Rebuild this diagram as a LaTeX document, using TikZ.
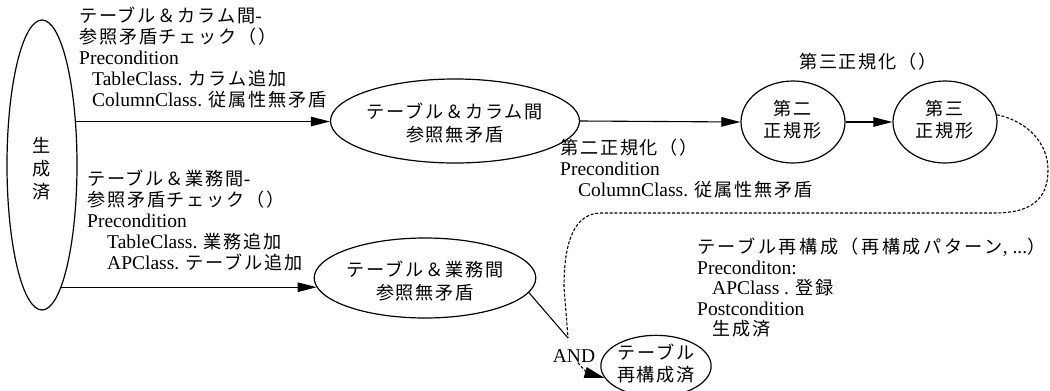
\documentclass[tikz,border=0pt]{standalone}
\usepackage{fontspec}
\setmainfont{Liberation Serif}
\newfontfamily\jp[Scale=0.93,LetterSpace=10]{Noto Sans CJK JP}
\newfontfamily\jpw[Scale=0.93,LetterSpace=14]{Noto Sans CJK JP}
\usetikzlibrary{arrows.meta,shapes.geometric}
\newcommand\J[1]{{\jp #1}}
\newcommand\JW[1]{{\jpw #1}}
\newcommand\low[2]{\raisebox{-#1}[\height][\depth]{\begin{tabular}{@{}c@{}}#2\end{tabular}}}
\begin{document}
\begin{tikzpicture}[x=1pt,y=-1pt,
  every node/.style={font=\fontsize{19.5}{21}\selectfont, inner sep=0pt},
  state/.style={ellipse, draw, line width=1.2pt, inner sep=0pt, font=\fontsize{19.5}{23}\selectfont},
  lbl/.style={align=left, anchor=north west},
  arr/.style={line width=1.1pt, -{Triangle[length=19pt,width=9.5pt]}},
  dsh/.style={line width=1.1pt, dash pattern=on 3pt off 1.8pt},
]
\useasboundingbox (0,0) rectangle (1050,391);

% states
\node[state, minimum width=70pt, minimum height=290pt, font=\fontsize{19.5}{23}\selectfont] (gen) at (42,165) {\low{6pt}{\J{生}\\\J{成}\\\J{済}}};
\node[state, minimum width=214pt, minimum height=84pt] (n1) at (455,121) {\low{4pt}{\J{テーブル＆カラム間}\\\J{参照無矛盾}}};
\node[state, minimum width=210pt, minimum height=80pt] (n2) at (425,278) {\low{5pt}{\J{テーブル＆業務間}\\\J{参照無矛盾}}};
\node[state, minimum width=104pt, minimum height=82pt, font=\fontsize{19.5}{22}\selectfont] (s2) at (793,122) {\low{0pt}{\J{第二}\\\J{正規形}}};
\node[state, minimum width=104pt, minimum height=82pt, font=\fontsize{19.5}{22}\selectfont] (s3) at (945,122) {\low{0pt}{\J{第三}\\\J{正規形}}};
\node[state, minimum width=100pt, minimum height=56pt, font=\fontsize{19.5}{21}\selectfont] (n5) at (656,366) {\low{0pt}{\J{テーブル}\\\J{再構成済}}};

% labels (anchor north west, about 8pt above the centre of the first line)
\node[lbl] (l1) at (79,7) {\J{テーブル＆カラム間}-\\
\J{参照矛盾チェック（）}\\
Precondition\\
\hspace*{13pt}TableClass. \J{カラム追加}\\
\hspace*{13pt}ColumnClass. \J{従属性無矛盾}};
\node[lbl] (l2) at (87,170) {\J{テーブル＆業務間}-\\
\J{参照矛盾チェック（）}\\
Precondition\\
\hspace*{20pt}TableClass. \J{業務追加}\\
\hspace*{20pt}APClass. \J{テーブル追加}};
\node[lbl] (l3) at (560,139) {\J{第二正規化（）}\\
Precondition\\
\hspace*{18pt}ColumnClass. \J{従属性無矛盾}};
\node (l4) at (868,62) {\J{第三正規化（）}};
\node[lbl, font=\fontsize{19.5}{20.5}\selectfont] (l5) at (697,238) {\JW{テーブル再構成（再構成パターン}, ...\JW{）}\\
Preconditon:\\
\hspace*{15pt}APClass . \J{登録}\\
Postcondition\\
\hspace*{15pt}\J{生成済}};
\node (and) at (574,356) {AND};
\coordinate (j) at (568,338);
\coordinate (k) at (587,373);

% connectors
\draw[arr] (gen.52) -- (gen.52 -| n1.west);
\draw[arr] (gen.-81) -- (gen.-81 -| n2.185);
\draw[arr] (n1.east) -- (s2.west);
\draw[arr] (s2.east) -- (s3.west);
\draw[dsh] (s3.8) .. controls (1030,122) and (1048,145) .. (1048,170)
  .. controls (1048,200) and (1030,213) .. (995,213) -- (600,213)
  .. controls (575,214) and (564,240) .. (564,287) -- (j);
\draw[line width=1.1pt] (n2.-8) -- (j);
\draw[dsh] (and.-60) -- (k);
\draw[line width=1.1pt, -{Triangle[length=20pt,width=11pt]}] (k) -- (n5.193);
\end{tikzpicture}
\end{document}
